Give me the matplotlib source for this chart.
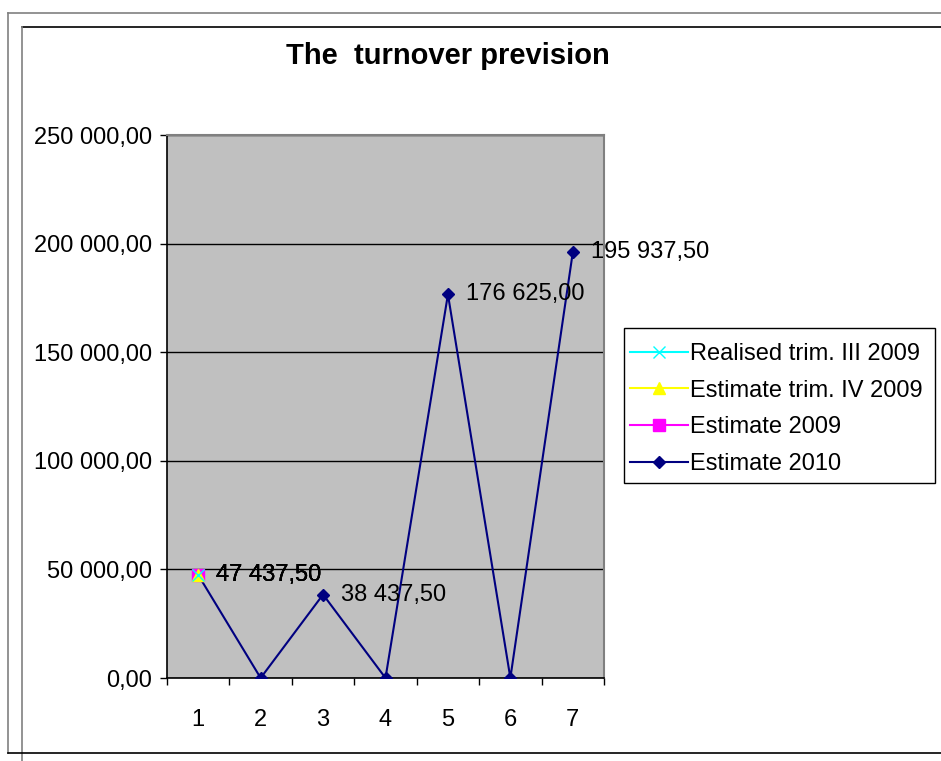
import matplotlib
matplotlib.use('Agg')
import matplotlib.pyplot as plt
from matplotlib.lines import Line2D
from matplotlib.patches import Rectangle
from matplotlib.ticker import FuncFormatter

plt.rcParams['font.family'] = ['Liberation Sans', 'DejaVu Sans']

# data
categories = [1, 2, 3, 4, 5, 6, 7]
realised_q3_2009 = [47437.5]
estimate_q4_2009 = [47437.5]
estimate_2009 = [47437.5]
estimate_2010 = [47437.5, 0, 38437.5, 0, 176625, 0, 195937.5]
series_names = ['Realised trim. III 2009', 'Estimate trim. IV 2009',
                'Estimate 2009', 'Estimate 2010']
yticks = [0, 50000, 100000, 150000, 200000, 250000]


def fmt_num(v, pos=None):
    s = '{:,.2f}'.format(v)
    return s.replace(',', ' ').replace('.', ',')


W, H = 941, 761
fig = plt.figure(figsize=(W / 100, H / 100), dpi=100)

# frame lines around the chart (pixel coords -> figure fraction)
def hline(y, x0, x1, color, lw=1.2):
    fig.add_artist(Line2D([x0 / W, x1 / W], [1 - y / H, 1 - y / H], color=color, lw=lw))

def vline(x, y0, y1, color, lw=1.2):
    fig.add_artist(Line2D([x / W, x / W], [1 - y0 / H, 1 - y1 / H], color=color, lw=lw))

hline(13, 8, W, '#808080')
vline(8, 13, 753, '#808080')
hline(27, 22, W, 'black')
vline(22, 27, H, '#808080')
hline(753, 8, W, 'black')

ax = fig.add_axes([167 / W, 1 - 678 / H, (604 - 167) / W, (678 - 135) / H])
ax.set_facecolor('#C0C0C0')

# first series is drawn on top, as in the original
styles = [
    (realised_q3_2009, '#00FFFF', 'x', 8, 6),
    (estimate_q4_2009, '#FFFF00', '^', 8, 5),
    (estimate_2009, '#FF00FF', 's', 8, 4),
    (estimate_2010, '#000080', 'D', 6, 3),
]
for (vals, col, mk, ms, z), name in zip(styles, series_names):
    xs = categories[:len(vals)]
    ax.plot(xs, vals, color=col, marker=mk, markersize=ms, lw=1.5,
            label=name, zorder=z)

# data labels
for vals in [realised_q3_2009, estimate_q4_2009, estimate_2009, estimate_2010]:
    for x, v in zip(categories, vals):
        if v == 0:
            continue
        ax.annotate(fmt_num(v), (x, v), xytext=(13, 0), textcoords='offset points',
                    ha='left', va='center', fontsize=17, zorder=7,
                    annotation_clip=False)

ax.set_xlim(0.5, 7.5)
ax.set_ylim(0, 250000)
ax.set_yticks(yticks)
ax.yaxis.set_major_formatter(FuncFormatter(fmt_num))
ax.set_xticks(categories)
ax.set_xticks([c - 0.5 for c in categories] + [7.5], minor=True)
ax.tick_params(axis='x', which='major', length=0, pad=22, labelsize=17)
ax.tick_params(axis='x', which='minor', length=5, width=1, direction='out')
ax.tick_params(axis='y', length=5, width=1, direction='out', pad=6, labelsize=17)
ax.grid(axis='y', color='black', lw=1)
ax.set_axisbelow(True)

for side in ['top', 'right']:
    ax.spines[side].set_color('#808080')
    ax.spines[side].set_linewidth(1.5)
for side in ['left', 'bottom']:
    ax.spines[side].set_color('black')
    ax.spines[side].set_linewidth(1.2)

fig.text(448 / W, 1 - 56 / H, 'The  turnover prevision', ha='center', va='center',
         fontsize=21, fontweight='bold')

# legend box drawn separately so its size matches the original
ax.add_patch(Rectangle((624 / W, 1 - 483 / H), (935 - 624) / W, (483 - 328) / H,
                       transform=fig.transFigure, facecolor='white',
                       edgecolor='black', lw=1, zorder=8, clip_on=False))
leg = ax.legend(loc='upper left', bbox_to_anchor=(630 / W, 1 - 343 / H),
                bbox_transform=fig.transFigure, fontsize=17, frameon=False,
                handlelength=2.45, handletextpad=0.1, labelspacing=0.62,
                borderpad=0, borderaxespad=0)
leg.set_zorder(10)

fig.savefig('out.png', dpi=100, facecolor='white')
